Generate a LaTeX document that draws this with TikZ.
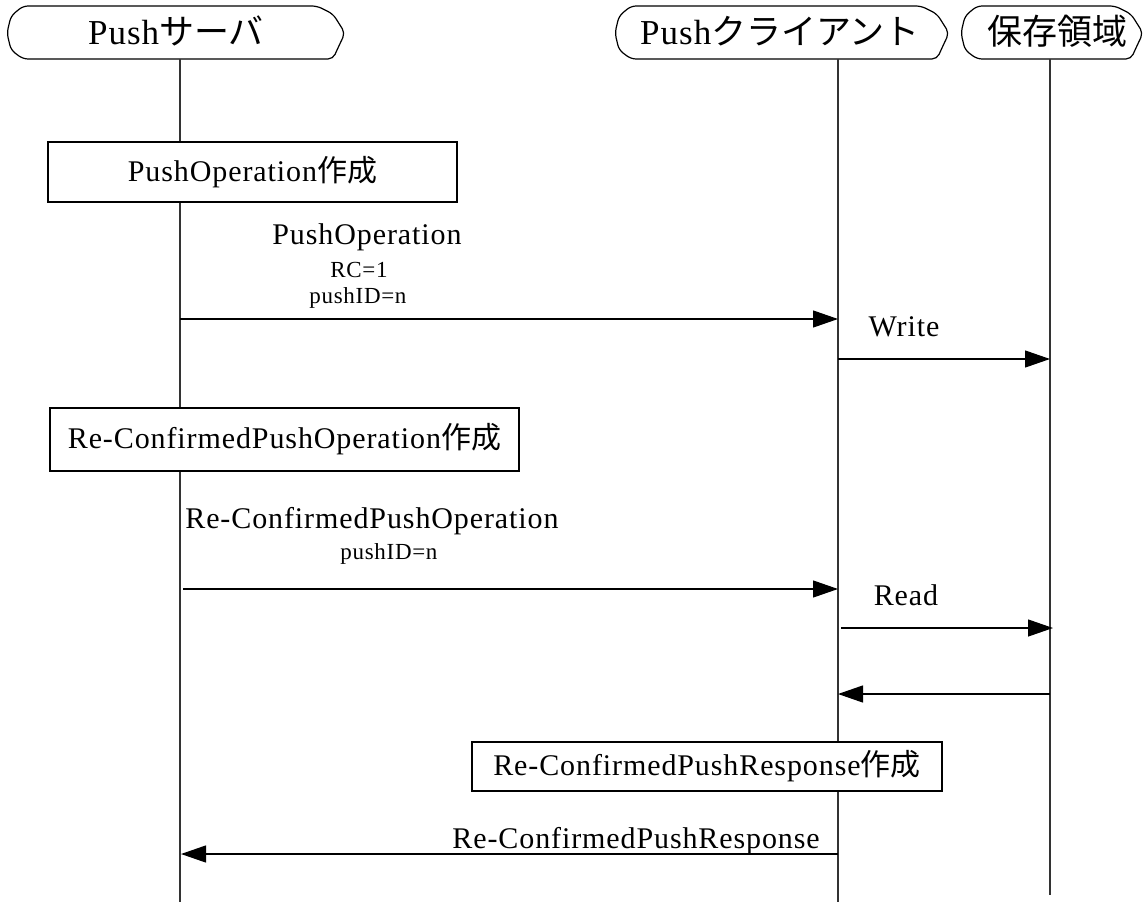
\documentclass[tikz,border=0pt]{standalone}
\usepackage{fontspec}
\setmainfont[LetterSpace=3]{Liberation Serif}
\newfontfamily\jp{Noto Sans CJK JP}
\usetikzlibrary{arrows.meta}
\newcommand{\hdf}{\fontsize{35}{42}\selectfont}
\newcommand{\lbf}{\fontsize{30}{36}\selectfont}
\newcommand{\smf}{\fontsize{23}{27}\selectfont}
\newcommand{\hdrpath}[2]{%
  \draw[hdrline] ({#1+16},6) -- ({#2-28},6) -- ({#2-12},14) -- ({#2},33) -- ({#2-8},50) -- ({#2-12},59)
    -- ({#1+16},59) -- ({#1+4},50) -- ({#1},33) -- ({#1+4},16) -- cycle;}
\tikzset{
  life/.style={line width=1.2pt, draw=black!80},
  msg/.style={line width=1.2pt, draw=black, -{Triangle[length=25pt,width=17pt]}},
  box/.style={draw, line width=1.2pt, fill=white, inner sep=0pt, font=\lbf},
  lbl/.style={inner sep=0pt, font=\lbf},
  sml/.style={inner sep=0pt, font=\smf},
  hdr/.style={inner sep=0pt, font=\hdf},
  hdrline/.style={line width=1.2pt, rounded corners=5pt, fill=white}
}
\begin{document}
\begin{tikzpicture}[x=1pt,y=-1pt]
\useasboundingbox (0,0) rectangle (1146,902);
\fill[white] (0,0) rectangle (1146,902);
% headers
\hdrpath{7}{345}
\hdrpath{615}{949}
\hdrpath{961}{1143}
\node[hdr, anchor=base] (srv) at (176,44) {Push{\jp サーバ}};
\node[hdr, anchor=base] (cli) at (780,44) {Push{\jp クライアント}};
\node[hdr, anchor=base] (sto) at (1057,44) {\jp 保存領域};
% lifelines
\coordinate (s0) at (180,59); \coordinate (sE) at (180,902);
\coordinate (c0) at (838,59); \coordinate (cE) at (838,902);
\coordinate (t0) at (1050,59); \coordinate (tE) at (1050,895);
\draw[life] (s0) -- (sE);
\draw[life] (c0) -- (cE);
\draw[life] (t0) -- (tE);
% boxes
\node[box, minimum width=409pt, minimum height=60pt] (b1) at (252.5,172) {PushOperation{\jp 作成}};
\node[box, minimum width=469pt, minimum height=63pt] (b2) at (284.5,439.5) {Re-ConfirmedPushOperation{\jp 作成}};
\node[box, minimum width=470pt, minimum height=49pt] (b3) at (707,766.5) {Re-ConfirmedPushResponse{\jp 作成}};
% message endpoints
\coordinate (m1a) at (180,319); \coordinate (m1b) at (838,319);
\coordinate (m2a) at (838,359); \coordinate (m2b) at (1050,359);
\coordinate (m3a) at (183,589); \coordinate (m3b) at (838,589);
\coordinate (m4a) at (841,628); \coordinate (m4b) at (1053,628);
\coordinate (m5a) at (1050,694); \coordinate (m5b) at (838,694);
\coordinate (m6a) at (838,854); \coordinate (m6b) at (181,854);
\draw[msg] (m1a) -- (m1b);
\draw[msg] (m2a) -- (m2b);
\draw[msg] (m3a) -- (m3b);
\draw[msg] (m4a) -- (m4b);
\draw[msg] (m5a) -- (m5b);
\draw[msg] (m6a) -- (m6b);
% labels
\node[lbl, anchor=base] (l1) at (367,244) {PushOperation};
\node[sml, anchor=base] (l1b) at (359,277) {RC=1};
\node[sml, anchor=base] (l1c) at (358,303) {pushID=n};
\node[lbl, anchor=base] (l2) at (904,336) {Write};
\node[lbl, anchor=base] (l3) at (372,528) {Re-ConfirmedPushOperation};
\node[sml, anchor=base] (l3b) at (389,559) {pushID=n};
\node[lbl, anchor=base] (l4) at (906,605) {Read};
\node[lbl, anchor=base east] (l6) at (820,848) {Re-ConfirmedPushResponse};
\end{tikzpicture}
\end{document}
